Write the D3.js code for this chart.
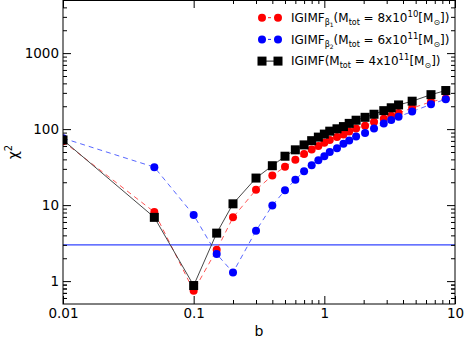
<!DOCTYPE html>
<html>
<head>
<meta charset="utf-8">
<script src="https://cdn.jsdelivr.net/npm/d3@7"></script>
<style>
  body { margin: 0; background: #fff; }
  svg { display: block; font-family: "DejaVu Sans", sans-serif; }
</style>
</head>
<body>
<div id="chart"></div>
<script>
// b values shared by the three curves
const bValues = [0.01, 0.05, 0.1, 0.15, 0.2, 0.3, 0.4, 0.5, 0.6, 0.7, 0.8, 0.9, 1.0, 1.1, 1.25, 1.4, 1.55, 1.75, 2.05, 2.4, 2.85, 3.25, 3.7, 4.7, 6.55, 8.5]
// chi^2 of each model
const chiBeta1 = [69, 8.1, 0.745, 2.58, 6.9, 15.9, 24.5, 32, 39.5, 47, 54, 60, 66, 72, 79, 85, 93, 102, 111, 124, 137, 150, 163, 189, 229, 253]
const chiBeta2 = [76, 31.6, 7.4, 2.27, 1.3, 4.6, 9.9, 15.7, 21.5, 28, 33.5, 39, 44, 50, 56, 64, 71, 80, 89, 102, 119, 132, 146, 170, 212, 248]
const chiIgimf = [72, 6.9, 0.875, 4.28, 10.4, 22.7, 33, 44, 53.4, 62, 70.5, 78.5, 86, 94, 101, 108, 119, 131, 143, 157, 175, 191, 208, 233, 284, 322]
const chiLimit = 3

const xMajor = [0.01, 0.1, 1, 10]
const xMajorLabels = ["0.01", "0.1", "1", "10"]
const yMajor = [1, 10, 100, 1000]
const yMajorLabels = ["1", "10", "100", "1000"]

// legend pieces: [text, level]  0 normal, -1 sub, -2 sub of sub, 1 sup
const legendRows = [
  {color: "#ff0000", shape: "circle", dash: "5,4", parts: [["IGIMF",0],["β",-1],["1",-2],["(M",0],["tot",-1],[" = 8x10",0],["10",1],["[M",0],["⊙",-1],["])",0]]},
  {color: "#0000ff", shape: "circle", dash: "5,4", parts: [["IGIMF",0],["β",-1],["2",-2],["(M",0],["tot",-1],[" = 6x10",0],["11",1],["[M",0],["⊙",-1],["])",0]]},
  {color: "#000000", shape: "square", dash: null, parts: [["IGIMF(M",0],["tot",-1],[" = 4x10",0],["11",1],["[M",0],["⊙",-1],["])",0]]}
]

const svgWidth = 464
const svgHeight = 338
const plot = {left: 63, right: 455, top: 0, bottom: 304}

const svg = d3.select("#chart").append("svg")
  .attr("width", svgWidth)
  .attr("height", svgHeight)

const xScale = d3.scaleLog().domain([0.01, 10]).range([plot.left, plot.right])
const yScale = d3.scaleLog().domain([0.5, 5000]).range([plot.bottom, plot.top])

//minor ticks for each decade
function minorTicks(lo, hi) {
  let out = []
  for (let d = 0.1; d <= 10000; d *= 10) {
    for (let k = 2; k <= 9; k++) {
      let v = +(k * d).toPrecision(6)
      if (v > lo && v < hi) out.push(v)
    }
  }
  return out
}
const xMinor = minorTicks(0.01, 10)
const yMinor = minorTicks(0.5, 5000).concat([0.5, 0.6, 0.7, 0.8, 0.9].filter(v => v > 0.5))

//clip so nothing leaves the axes box
svg.append("clipPath").attr("id", "plot-clip")
  .append("rect")
  .attr("x", plot.left).attr("y", plot.top)
  .attr("width", plot.right - plot.left).attr("height", plot.bottom - plot.top)

const area = svg.append("g").attr("clip-path", "url(#plot-clip)")

// horizontal threshold line
area.append("line")
  .attr("x1", plot.left).attr("x2", plot.right)
  .attr("y1", yScale(chiLimit)).attr("y2", yScale(chiLimit))
  .attr("stroke", "#3344ff").attr("stroke-width", 1.2)

const series = [
  {values: chiBeta1, color: "#ff0000", lineColor: "#ff4444", dash: "5,4", shape: "circle"},
  {values: chiBeta2, color: "#0000ff", lineColor: "#4455ff", dash: "5,4", shape: "circle"},
  {values: chiIgimf, color: "#000000", lineColor: "#333333", dash: null, shape: "square"}
]

const line = d3.line().x(d => xScale(d[0])).y(d => yScale(d[1]))

series.forEach(s => {
  let pts = bValues.map((b, i) => [b, s.values[i]])
  area.append("path")
    .datum(pts)
    .attr("d", line)
    .attr("fill", "none")
    .attr("stroke", s.lineColor)
    .attr("stroke-width", 0.9)
    .attr("stroke-dasharray", s.dash)
  if (s.shape == "circle") {
    area.selectAll(null).data(pts).enter().append("circle")
      .attr("cx", d => xScale(d[0])).attr("cy", d => yScale(d[1]))
      .attr("r", 4).attr("fill", s.color)
  } else {
    area.selectAll(null).data(pts).enter().append("rect")
      .attr("x", d => xScale(d[0]) - 4.5).attr("y", d => yScale(d[1]) - 4.5)
      .attr("width", 9).attr("height", 9).attr("fill", s.color)
  }
})

//axes: ticks point inward on all four sides
function styleAxis(g) {
  g.select(".domain").remove()
  g.selectAll("line").attr("stroke", "#000").attr("stroke-width", 1)
  g.selectAll("text").attr("font-family", "DejaVu Sans").attr("font-size", 13.5).attr("fill", "#000")
}

const xMajorFmt = d => xMajorLabels[xMajor.indexOf(d)]
const yMajorFmt = d => yMajorLabels[yMajor.indexOf(d)]

svg.append("g").attr("transform", "translate(0," + plot.bottom + ")")
  .call(d3.axisBottom(xScale).tickValues(xMajor).tickFormat(xMajorFmt).tickSizeInner(-8).tickSizeOuter(0).tickPadding(4.5))
  .call(styleAxis)
svg.append("g").attr("transform", "translate(0," + plot.bottom + ")")
  .call(d3.axisBottom(xScale).tickValues(xMinor).tickFormat("").tickSizeInner(-4).tickSizeOuter(0))
  .call(styleAxis)
svg.append("g").attr("transform", "translate(0," + plot.top + ")")
  .call(d3.axisTop(xScale).tickValues(xMajor).tickFormat("").tickSizeInner(-8).tickSizeOuter(0))
  .call(styleAxis)
svg.append("g").attr("transform", "translate(0," + plot.top + ")")
  .call(d3.axisTop(xScale).tickValues(xMinor).tickFormat("").tickSizeInner(-4).tickSizeOuter(0))
  .call(styleAxis)

svg.append("g").attr("transform", "translate(" + plot.left + ",0)")
  .call(d3.axisLeft(yScale).tickValues(yMajor).tickFormat(yMajorFmt).tickSizeInner(-8).tickSizeOuter(0).tickPadding(4))
  .call(styleAxis)
svg.append("g").attr("transform", "translate(" + plot.left + ",0)")
  .call(d3.axisLeft(yScale).tickValues(yMinor).tickFormat("").tickSizeInner(-4).tickSizeOuter(0))
  .call(styleAxis)
svg.append("g").attr("transform", "translate(" + plot.right + ",0)")
  .call(d3.axisRight(yScale).tickValues(yMajor).tickFormat("").tickSizeInner(-8).tickSizeOuter(0))
  .call(styleAxis)
svg.append("g").attr("transform", "translate(" + plot.right + ",0)")
  .call(d3.axisRight(yScale).tickValues(yMinor).tickFormat("").tickSizeInner(-4).tickSizeOuter(0))
  .call(styleAxis)

//frame
svg.append("rect")
  .attr("x", plot.left).attr("y", plot.top + 0.5)
  .attr("width", plot.right - plot.left).attr("height", plot.bottom - plot.top - 0.5)
  .attr("fill", "none").attr("stroke", "#000").attr("stroke-width", 1)

//axis labels
svg.append("text")
  .attr("x", (plot.left + plot.right) / 2).attr("y", 336)
  .attr("text-anchor", "middle").attr("font-size", 14)
  .text("b")

const yLab = svg.append("text")
  .attr("transform", "translate(18,152) rotate(-90)")
  .attr("text-anchor", "middle").attr("font-size", 14)
yLab.append("tspan").text("χ")
yLab.append("tspan").attr("dy", -6).attr("font-size", 10).text("2")

//legend
const levelSize = {"0": 12, "-1": 8, "-2": 6, "1": 8.5}
const levelShift = {"0": 0, "-1": 3, "-2": 5, "1": -5}

legendRows.forEach((row, i) => {
  let cy = 17.7 + i * 21.7
  let g = svg.append("g")
  g.append("line")
    .attr("x1", 262).attr("x2", 278).attr("y1", cy).attr("y2", cy)
    .attr("stroke", row.color).attr("stroke-width", 0.9)
    .attr("stroke-dasharray", row.dash ? "3,3" : null)
  ;[262, 278].forEach(mx => {
    if (row.shape == "circle") {
      g.append("circle").attr("cx", mx).attr("cy", cy).attr("r", 4).attr("fill", row.color)
    } else {
      g.append("rect").attr("x", mx - 4.5).attr("y", cy - 4.5).attr("width", 9).attr("height", 9).attr("fill", row.color)
    }
  })
  let t = g.append("text").attr("x", 291).attr("y", cy + 4.3).attr("font-size", 12)
  let prev = 0
  row.parts.forEach(p => {
    let lvl = String(p[1])
    t.append("tspan")
      .attr("dy", levelShift[lvl] - prev)
      .attr("font-size", levelSize[lvl])
      .text(p[0])
    prev = levelShift[lvl]
  })
})
</script>
</body>
</html>
